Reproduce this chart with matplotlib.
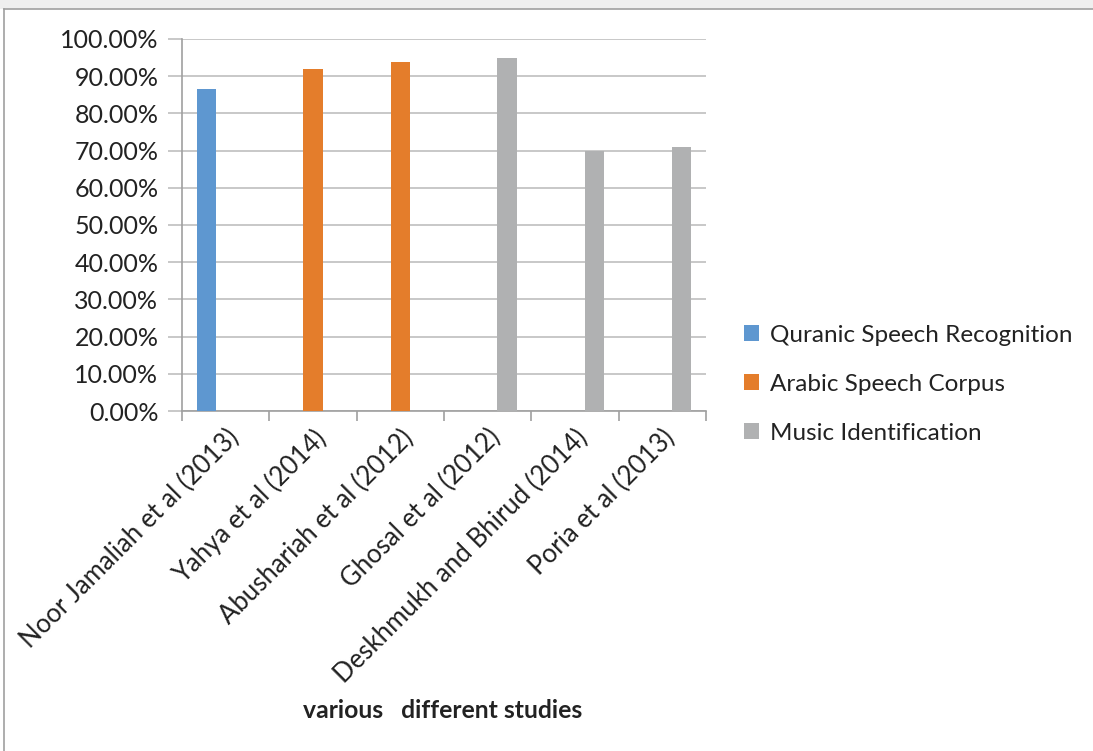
import numpy as np
import matplotlib
matplotlib.use('Agg')
import matplotlib.pyplot as plt
import matplotlib.patches as patches
import matplotlib.transforms as mtransforms
from matplotlib.ticker import FuncFormatter

studies = ['Noor Jamaliah et al (2013)', 'Yahya et al (2014)', 'Abushariah et al (2012)',
           'Ghosal et al (2012)', 'Deskhmukh and Bhirud (2014)', 'Poria et al (2013)']
series_names = ['Quranic Speech Recognition', 'Arabic Speech Corpus', 'Music Identification']
quranic = [0.866, np.nan, np.nan, np.nan, np.nan, np.nan]
arabic = [np.nan, 0.920, 0.939, np.nan, np.nan, np.nan]
music = [np.nan, np.nan, np.nan, 0.948, 0.700, 0.711]
colors = ['#5e97d0', '#e47d2b', '#b0b1b2']

plt.rcParams['font.family'] = ['Lato', 'DejaVu Sans']

W, H = 1093, 751
fig = plt.figure(figsize=(W / 100, H / 100), dpi=100)
fig.patch.set_facecolor('white')

# grey strip + frame of the original page
fig.patches.append(patches.Rectangle((0, 1 - 9 / H), 1, 9 / H, transform=fig.transFigure,
                                     facecolor='#efefef', edgecolor='none', zorder=0))
fig.lines.append(plt.Line2D([4 / W, 1], [1 - 9 / H, 1 - 9 / H], transform=fig.transFigure,
                            color='#a0a0a0', lw=1.2))
fig.lines.append(plt.Line2D([4 / W, 4 / W], [0, 1 - 9 / H], transform=fig.transFigure,
                            color='#a0a0a0', lw=1.2))

ax = fig.add_axes([182 / W, 1 - 411 / H, (706 - 182) / W, (411 - 39) / H])
x = np.arange(len(studies))
w = 0.222
for i, (vals, name, c) in enumerate(zip([quranic, arabic, music], series_names, colors)):
    ax.bar(x + (i - 1) * w, vals, width=w, color=c, label=name, zorder=3)

ax.set_xlim(-0.5, len(studies) - 0.5)
ax.set_ylim(0, 1.0)
ax.set_yticks(np.arange(0, 1.01, 0.1))
ax.yaxis.set_major_formatter(FuncFormatter(lambda v, p: '%.2f%%' % (v * 100)))
ax.grid(axis='y', color='#bfbfbf', lw=1.2, zorder=0)
ax.set_xticks(np.arange(-0.5, len(studies), 1.0), minor=False)
ax.set_xticklabels([])
ax.set_xticks(x, minor=True)
ax.set_xticklabels(studies, minor=True, rotation=45, ha='right', va='top',
                   rotation_mode='anchor', fontsize=18.5, color='#222222')
shift = mtransforms.ScaledTranslation(-6 / 100, -3 / 100, fig.dpi_scale_trans)
for lab in ax.get_xticklabels(minor=True):
    lab.set_transform(lab.get_transform() + shift)
ax.tick_params(axis='x', which='minor', length=0, pad=10)
ax.tick_params(axis='x', which='major', length=7, color='#a0a0a0', width=1.2)
ax.tick_params(axis='y', length=10, color='#bfbfbf', width=1.2, labelsize=18,
               labelcolor='#222222', pad=7)
for s in ['top', 'right']:
    ax.spines[s].set_visible(False)
ax.spines['left'].set_color('#a0a0a0')
ax.spines['bottom'].set_color('#a0a0a0')
ax.spines['left'].set_linewidth(1.2)
ax.spines['bottom'].set_linewidth(1.2)

fig.text(443 / W, 1 - 710 / H, 'various   different studies', ha='center', va='center',
         fontsize=17.8, fontweight='bold', color='#222222')

leg = ax.legend(loc='center left', bbox_to_anchor=(1.031, 0.072), frameon=False,
                fontsize=17.5, handlelength=0.62, handleheight=0.62, handletextpad=0.45,
                labelspacing=1.15, labelcolor='#222222')

fig.savefig('out.png', dpi=100)
